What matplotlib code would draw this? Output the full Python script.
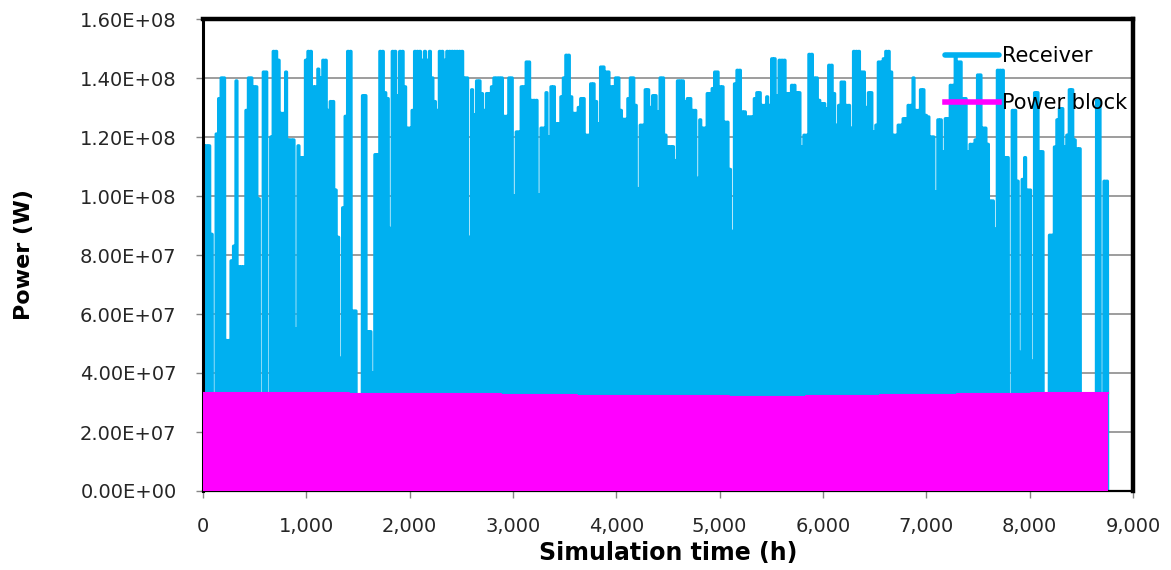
import numpy as np
import matplotlib.pyplot as plt
from matplotlib.ticker import FuncFormatter, MultipleLocator

plt.rcParams.update({'font.family': 'DejaVu Sans', 'font.size': 14})

FIG_W_PX = 1171
FIG_H_PX = 570
DPI = 100

# daily peak receiver power [MW], day 0 .. day 364
receiver_peak_mw = [
    117, 117, 117, 87, 0, 121, 133, 140, 140, 51,
    51, 78, 83, 139, 76, 76, 76, 129, 140, 140,
    137, 137, 99, 0, 142, 142, 0, 120, 149, 149,
    146, 128, 128, 142, 119, 119, 119, 55, 117, 113,
    113, 146, 149, 149, 137, 137, 143, 140, 146, 146,
    129, 132, 132, 102, 86, 45, 96, 127, 149, 149,
    61, 61, 0, 0, 134, 134, 54, 54, 40, 114,
    114, 149, 149, 135, 133,
    89, 149, 149, 134, 149, 149, 137, 123, 123, 129,
    149, 149, 149, 146, 149, 146, 149, 140, 132, 129,
    149, 149, 146, 149, 149, 149, 149, 149, 149, 149,
    140, 140, 86, 136, 127.5, 139, 139, 134.7, 129, 134.7,
    134.7, 137, 140, 140, 140, 140, 127, 127, 140, 140,
    100, 121.7, 121.7, 137, 137, 145.4, 145.4, 132.4, 132.4, 132.4,
    100.4, 123, 123, 135, 120, 137, 137, 124.5, 124.5, 133.6,
    140, 147.7, 147.7, 133.6, 128, 128,
    130, 133, 133, 120.6, 120.6, 138, 138, 132, 124.5, 143.7,
    143.7, 142, 142, 137, 137, 140, 140, 129, 126, 126,
    133, 140, 140, 130.7, 102.5, 124, 124, 136, 136, 130,
    134, 134, 128.5, 140, 140, 120.6, 116.7, 116.7, 116.7, 112,
    139, 139, 139, 132, 133, 133, 129, 129, 106, 125.8,
    123, 123, 134.7, 134.7, 136.4, 142, 142, 137, 137, 125,
    125, 109, 88, 138, 142.6, 142.6, 128.5, 128.5, 126.8, 126.8,
    126.8, 133, 135, 135, 130.7, 130.7,
    133.6, 130.7, 146.5, 146.5, 134, 146, 146, 146, 134.7, 134.7,
    137.5, 137.5, 135, 135, 116.7, 120.6, 120.6, 148, 148, 140,
    140, 132.4, 131.3, 131.3, 129.6, 144.3, 144.3, 134.7, 124, 130.7,
    138.6, 138.6, 130.7, 130.7, 123, 149, 149, 149, 142, 142,
    130, 135, 135, 121.7, 124, 145.4, 145.4, 146.5, 149, 149,
    142, 120.6, 120.6, 124, 124, 126.2, 126.2, 130.7, 130.7, 140,
    129, 129, 136, 136, 127.3, 126.8, 120, 120, 101.4, 125.8,
    125.8, 115, 126.2, 126.2, 137.5, 137.5,
    147.7, 145.4, 145.4, 133, 133, 115, 117.5, 117.5, 119, 141,
    141, 123, 123, 117.5, 98.3, 98.3, 88.8, 142.6, 142.6, 142.6,
    113, 113, 0, 129, 129, 105, 47, 105.6, 113, 102,
    102, 44, 135, 135, 115, 115, 0, 0, 86.7, 86.7,
    116.6, 125.8, 129.6, 129.6, 116.6, 120.6, 136, 136, 119, 116,
    116, 0, 0, 0, 0, 0, 0, 132.4, 132.4, 0,
    105, 105,
]

# power block output level [MW], one per month
power_block_mw = [33.1, 33.2, 33.0, 32.9, 32.6, 32.3, 32.1, 32.0, 32.1, 32.4, 32.8, 33.1]
days_in_month = [31, 28, 31, 30, 31, 30, 31, 31, 30, 31, 30, 31]

# shape of one sunny day: hour of day and fraction of the daily peak
day_hours = [6, 8, 16, 18]
day_fraction = [0, 1, 1, 0]

RECEIVER_COLOR = '#00B0F0'
POWER_BLOCK_COLOR = '#FF00FF'

t_rec = []
p_rec = []
for day, peak in enumerate(receiver_peak_mw):
    for h, f in zip(day_hours, day_fraction):
        t_rec.append(day*24 + h)
        p_rec.append(peak*1e6*f)
t_rec = np.array(t_rec)
p_rec = np.array(p_rec)

month_edges = np.concatenate([[0], np.cumsum(days_in_month)*24])
pb_level = np.append(np.array(power_block_mw)*1e6, power_block_mw[-1]*1e6)

fig = plt.figure(figsize=(FIG_W_PX/DPI, FIG_H_PX/DPI), dpi=DPI)
ax = fig.add_axes([203/FIG_W_PX, 1 - 491/FIG_H_PX, 930/FIG_W_PX, 472/FIG_H_PX])

ax.plot(t_rec, p_rec, color=RECEIVER_COLOR, lw=2.4, solid_joinstyle='round',
        solid_capstyle='round', label='Receiver', zorder=2)
ax.fill_between(month_edges, 0, pb_level, step='post', color=POWER_BLOCK_COLOR,
                lw=0, zorder=3)
ax.step(month_edges, pb_level, where='post', color=POWER_BLOCK_COLOR, lw=1.5,
        label='Power block', zorder=3)

ax.set_xlim(0, 9000)
ax.set_ylim(0, 1.6e8)
ax.xaxis.set_major_locator(MultipleLocator(1000))
ax.yaxis.set_major_locator(MultipleLocator(2e7))
ax.xaxis.set_major_formatter(FuncFormatter(lambda v, pos: f"{int(round(v)):,}"))
ax.yaxis.set_major_formatter(FuncFormatter(lambda v, pos: f"{v:.2E}"))
ax.tick_params(axis='both', direction='out', length=5, width=1, color='#868686',
               labelcolor='#262626', labelsize=14)
ax.tick_params(axis='y', pad=14)
ax.tick_params(axis='x', pad=14)

ax.set_axisbelow(True)
ax.grid(axis='y', color='#8c8c8c', lw=1.2)

for side, lw in [('top', 3.2), ('right', 3.2), ('left', 2.2), ('bottom', 1.6)]:
    ax.spines[side].set_color('black')
    ax.spines[side].set_linewidth(lw)

ax.set_xlabel('Simulation time (h)', fontsize=17, fontweight='bold', labelpad=3)
ax.set_ylabel('Power (W)', fontsize=16, fontweight='bold', labelpad=33)

leg = ax.legend(loc='upper right', bbox_to_anchor=(1127/FIG_W_PX, 1 - 46/FIG_H_PX),
                bbox_transform=fig.transFigure, frameon=False, fontsize=15,
                handlelength=2.6, handletextpad=0.15, labelspacing=1.3,
                borderpad=0, borderaxespad=0)
for line in leg.get_lines():
    line.set_linewidth(4)

fig.savefig('out.png', dpi=DPI)
